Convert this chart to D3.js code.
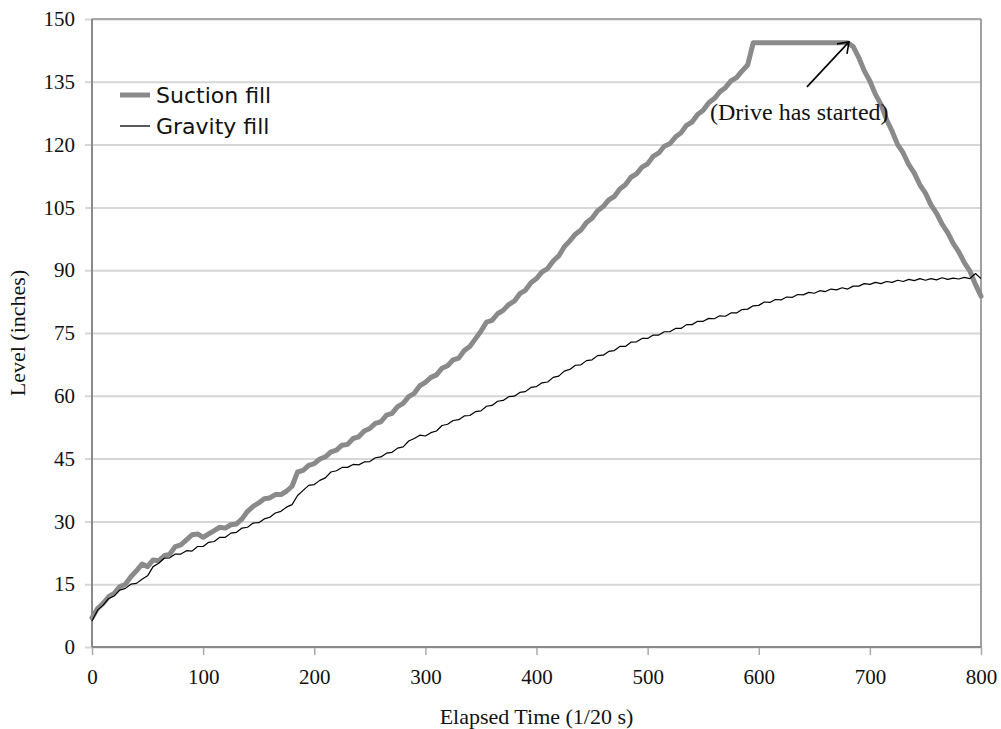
<!DOCTYPE html>
<html>
<head>
<meta charset="utf-8">
<script src="https://cdn.jsdelivr.net/npm/d3@7"></script>
<style>
  html, body { margin: 0; padding: 0; background: #fff; }
  svg { display: block; }
</style>
</head>
<body>
<svg id="chart" width="1001" height="729"></svg>
<script>
// Sample times (1/20 s), one reading every 5 ticks
const sampleTimes = d3.range(0, 801, 5);

// Tank level for the suction-driven fill (inches)
const suctionFill = [
  7.0, 9.2, 10.4, 12.0, 12.8, 14.4, 15.0, 16.8, 18.2, 19.8,
  19.2, 20.8, 20.6, 21.8, 22.2, 24.0, 24.4, 25.6, 26.8, 27.0,
  26.2, 27.0, 27.8, 28.6, 28.4, 29.2, 29.4, 30.6, 32.4, 33.6,
  34.4, 35.4, 35.6, 36.4, 36.4, 37.2, 38.4, 41.8, 42.2, 43.4,
  43.8, 44.9, 45.4, 46.6, 47.0, 48.2, 48.4, 49.8, 50.2, 51.6,
  52.2, 53.4, 53.8, 55.4, 55.8, 57.4, 58.2, 59.8, 60.6, 62.4,
  63.2, 64.4, 65.0, 66.6, 67.2, 68.6, 69.0, 70.8, 71.8, 73.6,
  75.4, 77.6, 78.0, 79.6, 80.4, 81.8, 82.6, 84.4, 85.2, 87.0,
  88.0, 89.6, 90.4, 92.2, 93.4, 95.6, 97.0, 98.6, 99.6, 101.4,
  102.4, 104.2, 105.2, 106.8, 107.6, 109.4, 110.4, 112.2, 113.0, 114.6,
  115.4, 117.2, 118.0, 119.6, 120.2, 121.8, 122.8, 124.6, 125.4, 127.2,
  128.2, 130.0, 131.0, 132.6, 133.6, 135.2, 136.0, 137.6, 139.0, 144.3,
  144.3, 144.3, 144.3, 144.3, 144.3, 144.3, 144.3, 144.3, 144.3, 144.3,
  144.3, 144.3, 144.3, 144.3, 144.3, 144.3, 144.3, 143.4, 140.8, 137.6,
  135.2, 132.0, 129.6, 126.0, 123.2, 120.0, 118.0, 115.2, 113.2, 110.4,
  108.4, 105.6, 103.6, 101.0, 99.0, 96.4, 94.4, 91.8, 89.8, 86.6,
  83.8
];

// Tank level for the gravity fill (inches)
const gravityFill = [
  6.2, 8.8, 10.0, 11.6, 12.2, 13.6, 14.0, 15.0, 15.2, 16.2,
  17.0, 19.2, 20.0, 21.2, 21.3, 22.2, 22.2, 23.0, 22.9, 24.0,
  24.0, 25.0, 25.2, 26.2, 26.2, 27.2, 27.4, 28.4, 28.6, 29.6,
  29.7, 30.6, 31.0, 32.0, 32.4, 33.4, 34.0, 36.2, 37.4, 38.6,
  38.8, 39.8, 40.4, 41.8, 42.1, 42.9, 42.9, 43.6, 43.5, 44.2,
  44.3, 45.2, 45.4, 46.3, 46.5, 47.5, 47.8, 49.2, 49.8, 50.6,
  50.4, 51.2, 51.6, 52.9, 53.2, 54.1, 54.3, 55.2, 55.3, 56.2,
  56.4, 57.5, 57.7, 58.7, 58.9, 59.8, 59.9, 60.8, 61.0, 62.0,
  62.2, 63.1, 63.3, 64.4, 64.7, 65.9, 66.3, 67.3, 67.4, 68.4,
  68.6, 69.6, 69.7, 70.6, 70.8, 71.8, 71.8, 72.8, 72.9, 73.7,
  73.7, 74.5, 74.5, 75.3, 75.3, 76.1, 76.1, 77.0, 77.0, 77.8,
  77.8, 78.5, 78.4, 79.1, 79.0, 79.8, 79.8, 80.6, 80.7, 81.5,
  81.6, 82.4, 82.3, 83.0, 82.9, 83.6, 83.5, 84.2, 84.1, 84.7,
  84.5, 85.1, 84.9, 85.5, 85.3, 85.8, 85.5, 86.2, 86.2, 86.8,
  86.6, 87.1, 86.8, 87.3, 87.1, 87.6, 87.3, 87.8, 87.5, 88.0,
  87.6, 88.0, 87.7, 88.2, 87.8, 88.1, 87.9, 88.3, 88.0, 89.2,
  88.0
];

const xTicks = [0, 100, 200, 300, 400, 500, 600, 700, 800];
const yTicks = [0, 15, 30, 45, 60, 75, 90, 105, 120, 135, 150];

const seriesNames = ["Suction fill", "Gravity fill"];
const annotationText = "(Drive has started)";
const driveStartTime = 683;

const svg = d3.select("#chart");
const plot = { left: 92, right: 981, top: 19, bottom: 647 };

const x = d3.scaleLinear().domain([0, 800]).range([plot.left, plot.right]);
const y = d3.scaleLinear().domain([0, 150]).range([plot.bottom, plot.top]);

const serif = "'Liberation Serif', 'Times New Roman', serif";
const sans = "'DejaVu Sans', Verdana, sans-serif";

// Horizontal gridlines with left tick marks and labels
const yAxis = d3.axisLeft(y).tickValues(yTicks)
  .tickSize(-(plot.right - plot.left)).tickSizeOuter(0).tickPadding(12);
const gy = svg.append("g").attr("transform", `translate(${plot.left},0)`).call(yAxis);
gy.select(".domain").remove();
gy.selectAll(".tick line")
  .attr("x1", -7)
  .attr("stroke", "#d6d6d6").attr("stroke-width", 2);
gy.selectAll(".tick text")
  .attr("font-family", serif).attr("font-size", 21).attr("fill", "#111")
  .attr("x", -17);

// Bottom axis with downward ticks
const xAxis = d3.axisBottom(x).tickValues(xTicks).tickSize(8).tickSizeOuter(0).tickPadding(14);
const gx = svg.append("g").attr("transform", `translate(0,${plot.bottom})`).call(xAxis);
gx.select(".domain").remove();
gx.selectAll(".tick line").attr("stroke", "#aaa").attr("stroke-width", 1.5);
gx.selectAll(".tick text")
  .attr("font-family", serif).attr("font-size", 21).attr("fill", "#111");

// Plot frame
svg.append("line").attr("x1", plot.left).attr("x2", plot.right)
  .attr("y1", plot.top).attr("y2", plot.top).attr("stroke", "#a8a8a8").attr("stroke-width", 2);
svg.append("line").attr("x1", plot.right).attr("x2", plot.right)
  .attr("y1", plot.top).attr("y2", plot.bottom).attr("stroke", "#a0a0a0").attr("stroke-width", 2);
svg.append("line").attr("x1", plot.left).attr("x2", plot.left)
  .attr("y1", plot.top).attr("y2", plot.bottom).attr("stroke", "#8a8a8a").attr("stroke-width", 2);
svg.append("line").attr("x1", plot.left).attr("x2", plot.right)
  .attr("y1", plot.bottom).attr("y2", plot.bottom).attr("stroke", "#8a8a8a").attr("stroke-width", 2);

// Level curves
const line = d3.line().x((d, i) => x(sampleTimes[i])).y(d => y(d));
svg.append("path").datum(suctionFill)
  .attr("d", line).attr("fill", "none")
  .attr("stroke", "#8a8a8a").attr("stroke-width", 5)
  .attr("stroke-linejoin", "round").attr("stroke-linecap", "round");
svg.append("path").datum(gravityFill)
  .attr("d", line).attr("fill", "none")
  .attr("stroke", "#000").attr("stroke-width", 1.2)
  .attr("stroke-linejoin", "round");

// Legend
const legend = svg.append("g").attr("font-family", sans).attr("font-size", 22).attr("fill", "#111");
legend.append("line").attr("x1", 120).attr("x2", 150).attr("y1", 95).attr("y2", 95)
  .attr("stroke", "#8a8a8a").attr("stroke-width", 5);
legend.append("text").attr("x", 156).attr("y", 103).text(seriesNames[0]);
legend.append("line").attr("x1", 120).attr("x2", 150).attr("y1", 126).attr("y2", 126)
  .attr("stroke", "#000").attr("stroke-width", 1.3);
legend.append("text").attr("x", 156).attr("y", 134).text(seriesNames[1]);

// Annotation arrow pointing at the end of the plateau
const tipX = x(driveStartTime) - 2, tipY = y(144.3) - 1;
const tailX = tipX - 42, tailY = tipY + 45;
const arrow = svg.append("g").attr("stroke", "#000").attr("stroke-width", 1.6).attr("fill", "none");
arrow.append("line").attr("x1", tailX).attr("y1", tailY).attr("x2", tipX).attr("y2", tipY);
arrow.append("path").attr("d", `M${tipX - 12},${tipY + 2} L${tipX},${tipY} L${tipX - 2},${tipY + 12}`);
svg.append("text").attr("x", 710).attr("y", 120)
  .attr("font-family", serif).attr("font-size", 24).attr("fill", "#111")
  .text(annotationText);

// Axis titles
svg.append("text")
  .attr("transform", "translate(25,333) rotate(-90)")
  .attr("text-anchor", "middle")
  .attr("font-family", serif).attr("font-size", 22).attr("fill", "#111")
  .text("Level (inches)");
svg.append("text")
  .attr("x", (plot.left + plot.right) / 2).attr("y", 724)
  .attr("text-anchor", "middle")
  .attr("font-family", serif).attr("font-size", 22).attr("fill", "#111")
  .text("Elapsed Time (1/20 s)");
</script>
</body>
</html>
